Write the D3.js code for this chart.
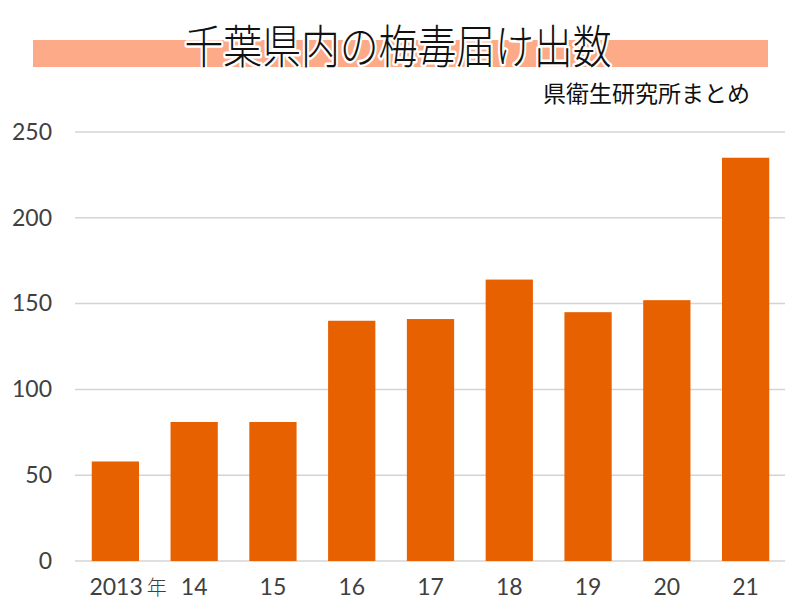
<!DOCTYPE html>
<html>
<head>
<meta charset="utf-8">
<script src="https://cdn.jsdelivr.net/npm/d3@7"></script>
<style>
  body { margin: 0; background: #fff; }
</style>
</head>
<body>
<script>
let w = 800;
let h = 612;

// data
let years = ["2013", "14", "15", "16", "17", "18", "19", "20", "21"];
let counts = [58, 81, 81, 140, 141, 164, 145, 152, 235];
let yTicks = [0, 50, 100, 150, 200, 250];

let svg = d3.select("body").append("svg").attr("width", w).attr("height", h);

let xScale = d3.scaleBand().domain(years).range([76, 785]).paddingInner(0.4).paddingOuter(0.2);
let yScale = d3.scaleLinear().domain([0, 250]).range([561, 132]);

// title banner
svg
  .append("rect")
  .attr("x", 33)
  .attr("y", 40)
  .attr("width", 735)
  .attr("height", 27)
  .attr("fill", "#fdaa88");

svg
  .append("text")
  .attr("x", 398)
  .attr("y", 63)
  .attr("text-anchor", "middle")
  .attr("textLength", 427)
  .attr("lengthAdjust", "spacingAndGlyphs")
  .style("font-family", "'Noto Sans CJK JP'")
  .style("font-weight", 300)
  .style("font-size", "46px")
  .style("fill", "#111")
  .style("stroke", "#fff")
  .style("stroke-width", 5)
  .style("paint-order", "stroke")
  .style("stroke-linejoin", "round")
  .text("千葉県内の梅毒届け出数");

svg
  .append("text")
  .attr("x", 750)
  .attr("y", 102)
  .attr("text-anchor", "end")
  .style("font-family", "'Noto Sans CJK JP'")
  .style("font-size", "23px")
  .style("fill", "#111")
  .text("県衛生研究所まとめ");

// gridlines
svg
  .append("g")
  .selectAll("line")
  .data(yTicks)
  .enter()
  .append("line")
  .attr("x1", 75)
  .attr("x2", 785)
  .attr("y1", (d) => yScale(d))
  .attr("y2", (d) => yScale(d))
  .attr("stroke", "#d4d4d4")
  .attr("stroke-width", 1.5);

// y axis
let y_axis = d3.axisLeft(yScale).tickValues(yTicks).tickSize(0).tickPadding(0);
let yg = svg.append("g").attr("transform", "translate(52,0)").call(y_axis);
yg.select(".domain").remove();
yg.selectAll("text")
  .style("font-family", "Lato, 'Open Sans', sans-serif")
  .style("font-size", "23px")
  .style("fill", "#404040");

// bars
svg
  .selectAll("rect.bar")
  .data(counts)
  .enter()
  .append("rect")
  .attr("class", "bar")
  .attr("x", (d, i) => xScale(years[i]))
  .attr("width", xScale.bandwidth())
  .attr("y", (d) => yScale(d))
  .attr("height", (d) => yScale(0) - yScale(d))
  .attr("fill", "#e86100");

// x axis
let x_axis = d3.axisBottom(xScale).tickSize(0).tickPadding(0);
let xg = svg.append("g").attr("transform", "translate(0,579)").call(x_axis);
xg.select(".domain").remove();
xg.selectAll("text")
  .style("font-family", "Lato, 'Open Sans', sans-serif")
  .style("font-size", "23px")
  .style("fill", "#404040")
  .attr("dy", "0.71em");

// "年" after the first year
let first = xg.selectAll("text").filter((d) => d === "2013");
first.text(null).attr("text-anchor", "start").attr("x", -26);
first.append("tspan").text("2013");
first
  .append("tspan")
  .attr("dx", 4)
  .style("font-family", "'Noto Sans CJK JP'")
  .style("font-size", "20px")
  .style("font-weight", 300)
  .text("年");
</script>
</body>
</html>
